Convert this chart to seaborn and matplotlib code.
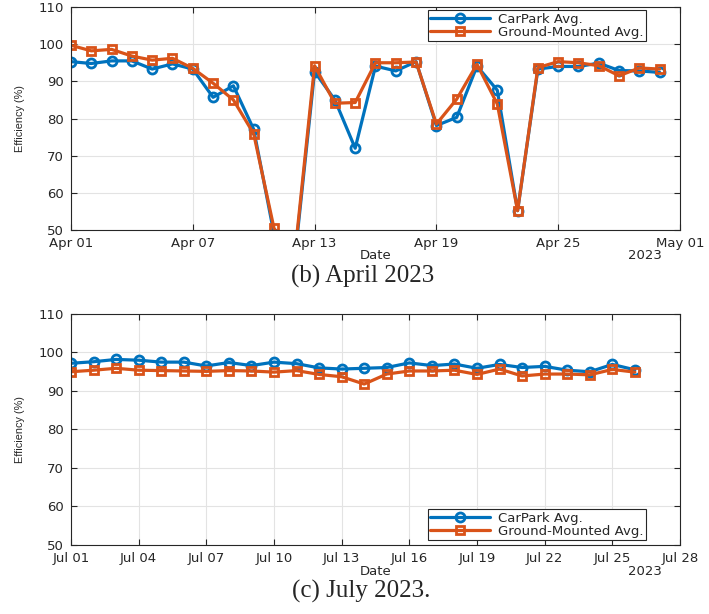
import pandas as pd
import matplotlib
matplotlib.use('Agg')
import matplotlib.pyplot as plt
import matplotlib.dates as mdates
import seaborn as sns

sns.set_theme(context='notebook', style='whitegrid')
plt.rcParams['font.family'] = ['DejaVu Sans']
BLUE = '#0072BD'
ORANGE = '#D95319'
EDGE = '#262626'

# April 2023 daily averages (%)
april_dates = pd.date_range('2023-04-01', '2023-04-30', freq='D')
april_carpark = [95.3, 94.8, 95.5, 95.5, 93.3, 94.7, 93.3, 85.7, 88.8, 77.1,
                 49.0, 41.0, 92.6, 85.0, 72.0, 94.1, 92.8, 95.3, 78.1, 80.3,
                 94.1, 87.6, 55.2, 93.3, 94.0, 94.0, 94.9, 92.9, 92.8, 92.4]
april_ground = [99.7, 98.2, 98.6, 96.8, 95.7, 96.2, 93.5, 89.5, 85.0, 75.9,
                50.5, 42.0, 94.2, 84.1, 84.3, 95.0, 95.0, 95.2, 78.5, 85.2,
                94.6, 83.9, 55.2, 93.7, 95.3, 95.0, 94.2, 91.5, 93.6, 93.3]
april_ticks = pd.date_range('2023-04-01', '2023-05-01', freq='6D')

# July 2023 daily averages (%)
july_dates = pd.date_range('2023-07-01', '2023-07-26', freq='D')
july_carpark = [97.2, 97.6, 98.2, 98.0, 97.5, 97.5, 96.5, 97.4, 96.6, 97.5,
                97.1, 96.0, 95.7, 95.9, 96.1, 97.3, 96.6, 97.0, 95.9, 96.9,
                96.1, 96.4, 95.4, 95.0, 96.9, 95.5]
july_ground = [95.0, 95.4, 95.9, 95.4, 95.3, 95.2, 95.1, 95.3, 95.2, 94.9,
               95.3, 94.3, 93.7, 91.8, 94.4, 95.2, 95.2, 95.4, 94.3, 95.7,
               93.9, 94.4, 94.4, 94.2, 95.6, 94.9]
july_ticks = pd.date_range('2023-07-01', '2023-07-28', freq='3D')

yticks = [50, 60, 70, 80, 90, 100, 110]


def plot_panel(ax, dates, carpark, ground, ticks, xlim, leg_loc, leg_anchor):
    sns.lineplot(x=dates, y=carpark, marker='o', markersize=6.5,
                 markerfacecolor='none', markeredgecolor=BLUE, markeredgewidth=2,
                 linewidth=2.3, color=BLUE, label='CarPark Avg.', ax=ax)
    sns.lineplot(x=dates, y=ground, marker='s', markersize=6,
                 markerfacecolor='none', markeredgecolor=ORANGE, markeredgewidth=2,
                 linewidth=2.3, color=ORANGE, label='Ground-Mounted Avg.', ax=ax)

    ax.set_xticks(ticks)
    ax.xaxis.set_major_formatter(mdates.DateFormatter('%b %d'))
    ax.set_xlim(xlim)
    ax.set_yticks(yticks)
    ax.set_ylim(50, 110)

    ax.grid(True, color='#e3e3e3', linewidth=0.8)
    for sp in ax.spines.values():
        sp.set_color(EDGE)
        sp.set_linewidth(0.8)
    ax.tick_params(direction='in', top=True, right=True, bottom=True, left=True,
                   length=4, width=0.8, color=EDGE, labelsize=9.5, labelcolor='#262626')
    ax.tick_params(axis='x', pad=5)
    ax.tick_params(axis='y', pad=5)

    ax.set_xlabel('Date', fontsize=9.5, color='#262626')
    ax.xaxis.set_label_coords(0.5, -0.085)
    ax.set_ylabel('Efficiency (%)', fontsize=7.8,
                  family=['Liberation Sans'], color='#262626')
    ax.yaxis.set_label_coords(-0.076, 0.5)
    ax.text(0.942, -0.085, '2023', transform=ax.transAxes, ha='center', va='top',
            fontsize=9.5, color='#262626')

    leg = ax.legend(loc=leg_loc, bbox_to_anchor=leg_anchor, fontsize=9.5,
                    handlelength=4.5, labelspacing=0.0, borderpad=0.2,
                    borderaxespad=0, handletextpad=0.6, fancybox=False,
                    framealpha=1, edgecolor=EDGE)
    leg.get_frame().set_linewidth(0.8)


fig = plt.figure(figsize=(7.09, 6.14), dpi=100)
ax1 = fig.add_axes([0.1001, 0.6254, 0.859, 0.3632])
ax2 = fig.add_axes([0.1001, 0.1124, 0.859, 0.3762])

plot_panel(ax1, april_dates, april_carpark, april_ground, april_ticks,
           (april_ticks[0], april_ticks[-1]), 'upper right', (0.944, 0.987))
plot_panel(ax2, july_dates, july_carpark, july_ground, july_ticks,
           (july_ticks[0], july_ticks[-1]), 'lower right', (0.944, 0.02))

fig.text(0.511, 1 - 276 / 614, '(b) April 2023', family='Liberation Serif',
         fontsize=18, ha='center', va='center')
fig.text(0.509, 1 - 591 / 614, '(c) July 2023.', family='Liberation Serif',
         fontsize=18, ha='center', va='center')

plt.savefig('out.png', dpi=100)
